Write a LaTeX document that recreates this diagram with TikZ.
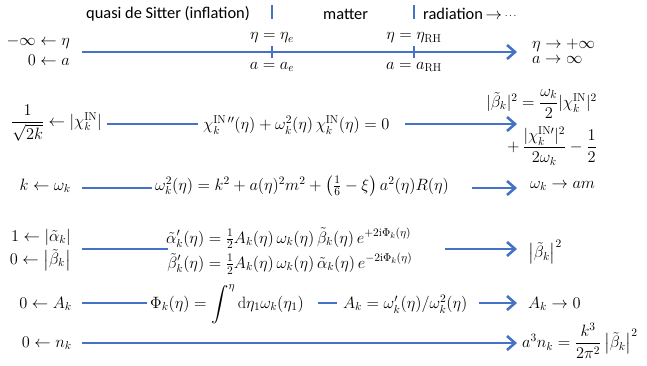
\RequirePackage{fix-cm}
\documentclass[tikz,border=0pt]{standalone}
\usepackage{amsmath}
\usepackage{fontspec}
\newfontfamily\calfont{Carlito}
\usetikzlibrary{arrows.meta}
\definecolor{obl}{HTML}{4472C4}
\begin{document}
\begin{tikzpicture}[x=1pt,y=-1pt,
  bl/.style={draw=obl, line width=2pt},
  arr/.style={bl, -{Straight Barb[length=8pt,width=14pt,line width=2.6pt]}},
  tk/.style={draw=obl, line width=2.5pt},
  m/.style={inner sep=0pt, font=\fontsize{16.4}{19.7}\selectfont},
  hd/.style={inner sep=0pt, font=\calfont\fontsize{16.4}{19.7}\selectfont}]
\useasboundingbox (0,0) rectangle (647,365);
% header
\node[hd, anchor=west] (h1) at (86,14) {quasi de Sitter (inflation)};
\node[hd, anchor=west] (h2) at (323,14) {matter};
\node[hd, anchor=west] (h3) at (423,14) {radiation\,$\rightarrow$\,\raisebox{1.6pt}{\fontsize{10}{12}\selectfont$\cdots$}};
\coordinate (ht1a) at (272,5); \coordinate (ht1b) at (272,19);
\coordinate (ht2a) at (414,5); \coordinate (ht2b) at (414,19);
\draw[tk] (ht1a) -- (ht1b);
\draw[tk] (ht2a) -- (ht2b);
% timeline
\node[m, anchor=east] (l1a) at (70,42) {$-\infty \leftarrow \eta$};
\node[m, anchor=east] (l1b) at (70,60) {$0 \leftarrow a$};
\node[m, anchor=west] (r1a) at (532,45) {$\eta \rightarrow +\infty$};
\node[m, anchor=west] (r1b) at (532,60) {$a \rightarrow \infty$};
\coordinate (t0) at (82,52); \coordinate (t1) at (517,52);
\draw[arr] (t0) -- (t1);
\coordinate (k1a) at (272,46); \coordinate (k1b) at (272,58);
\coordinate (k2a) at (414,46); \coordinate (k2b) at (414,58);
\draw[tk] (k1a) -- (k1b);
\draw[tk] (k2a) -- (k2b);
\node[m] (ee) at (272,38) {$\eta = \eta_e$};
\node[m] (ae) at (272,67) {$a = a_e$};
\node[m] (er) at (414,38) {$\eta = \eta_{\mathrm{RH}}$};
\node[m] (ar) at (414,67) {$a = a_{\mathrm{RH}}$};
% row 2
\node[m, anchor=east] (l2) at (102,123) {$\dfrac{1}{\sqrt{2k}} \leftarrow |\chi_k^{\mathrm{IN}}|$};
\node[m, anchor=west] (e2) at (203,125) {$\chi_k^{\mathrm{IN}\,\prime\prime}(\eta) + \omega_k^2(\eta)\,\chi_k^{\mathrm{IN}}(\eta) = 0$};
\node[m, anchor=east] (r2a) at (597,104) {$|\tilde\beta_k|^2 = \dfrac{\omega_k}{2}|\chi_k^{\mathrm{IN}}|^2$};
\node[m, anchor=east] (r2b) at (597,146) {$+\,\dfrac{|\chi_k^{\mathrm{IN}\prime}|^2}{2\omega_k} - \dfrac{1}{2}$};
\coordinate (a2) at (107,124); \coordinate (b2) at (198,124);
\coordinate (c2) at (405,124); \coordinate (d2) at (517,124);
\draw[bl] (a2) -- (b2);
\draw[arr] (c2) -- (d2);
% row 3
\node[m, anchor=east] (l3) at (71,186) {$k \leftarrow \omega_k$};
\node[m, anchor=west] (e3) at (155,186) {$\omega_k^2(\eta) = k^2 + a(\eta)^2 m^2 + \left(\tfrac{1}{6} - \xi\right) a^2(\eta) R(\eta)$};
\node[m, anchor=west] (r3) at (530,186) {$\omega_k \rightarrow am$};
\coordinate (a3) at (82,188); \coordinate (b3) at (152,188);
\coordinate (c3) at (472,188); \coordinate (d3) at (517,188);
\draw[bl] (a3) -- (b3);
\draw[arr] (c3) -- (d3);
% row 4
\node[m, anchor=east] (l4a) at (71,237) {$1 \leftarrow |\tilde\alpha_k|$};
\node[m, anchor=east] (l4b) at (71,260) {$0 \leftarrow \left|\tilde\beta_k\right|$};
\node[m, anchor=west] (e4) at (166,251) {$\begin{aligned}
\tilde\alpha_k'(\eta) &= \tfrac{1}{2}A_k(\eta)\,\omega_k(\eta)\,\tilde\beta_k(\eta)\,e^{+2\mathrm{i}\Phi_k(\eta)}\\
\tilde\beta_k'(\eta) &= \tfrac{1}{2}A_k(\eta)\,\omega_k(\eta)\,\tilde\alpha_k(\eta)\,e^{-2\mathrm{i}\Phi_k(\eta)}
\end{aligned}$};
\node[m, anchor=west] (r4) at (528,252) {$\left|\tilde\beta_k\right|^2$};
\coordinate (a4) at (82,249); \coordinate (b4) at (168,249);
\coordinate (c4) at (445,249); \coordinate (d4) at (517,249);
\draw[bl] (a4) -- (b4);
\draw[arr] (c4) -- (d4);
% row 5
\node[m, anchor=east] (l5) at (72,304) {$0 \leftarrow A_k$};
\node[m, anchor=west] (e5a) at (150,304) {$\Phi_k(\eta) = \displaystyle\int^{\eta} \mathrm{d}\eta_1 \omega_k(\eta_1)$};
\node[m, anchor=west] (e5b) at (343,304) {$A_k = \omega_k'(\eta)/\omega_k^2(\eta)$};
\node[m, anchor=west] (r5) at (528,304) {$A_k \rightarrow 0$};
\coordinate (a5) at (82,303); \coordinate (b5) at (147,303);
\coordinate (c5) at (318,303); \coordinate (d5) at (337,303);
\coordinate (f5) at (479,303); \coordinate (g5) at (517,303);
\draw[bl] (a5) -- (b5);
\draw[bl] (c5) -- (d5);
\draw[arr] (f5) -- (g5);
% row 6
\node[m, anchor=east] (l6) at (72,343) {$0 \leftarrow n_k$};
\node[m, anchor=west] (r6) at (522,341) {$a^3 n_k = \dfrac{k^3}{2\pi^2}\left|\tilde\beta_k\right|^2$};
\coordinate (a6) at (82,343); \coordinate (b6) at (517,343);
\draw[arr] (a6) -- (b6);
\end{tikzpicture}
\end{document}
